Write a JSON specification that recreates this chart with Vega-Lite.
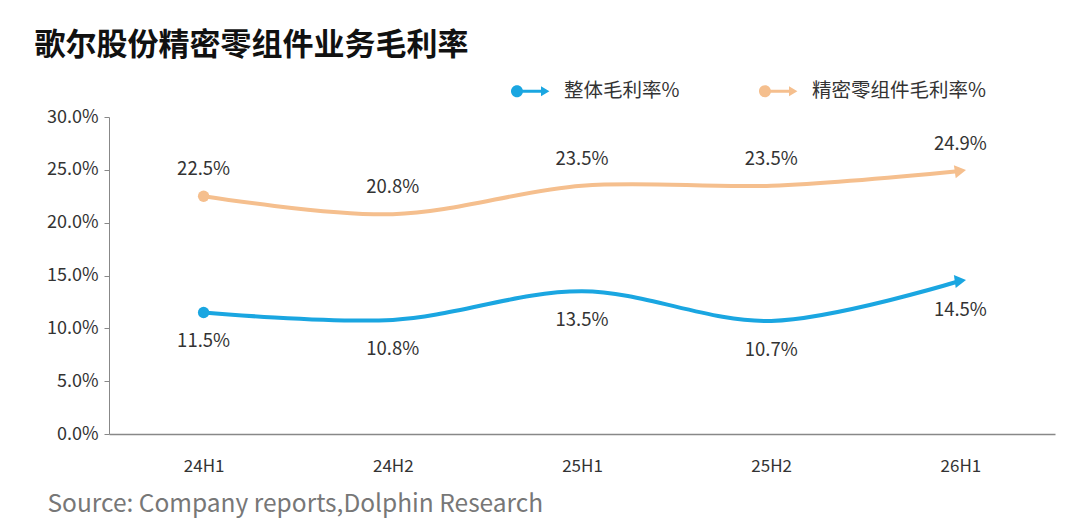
{
  "$schema": "https://vega.github.io/schema/vega-lite/v6.json",
  "autosize": {"type": "fit", "contains": "padding"},
  "width": 1080,
  "height": 530,
  "padding": {"top": 30, "left": 34, "right": 25, "bottom": 14},
  "background": "#ffffff",
  "title": {
    "text": "歌尔股份精密零组件业务毛利率",
    "anchor": "start",
    "frame": "bounds",
    "fontSize": 31,
    "fontWeight": "bold",
    "color": "#111111",
    "offset": 46,
    "dx": -12
  },
  "data": {
    "values": [
      {"period": "24H1", "series": "整体毛利率%", "value": 0.115},
      {"period": "24H2", "series": "整体毛利率%", "value": 0.108},
      {"period": "25H1", "series": "整体毛利率%", "value": 0.135},
      {"period": "25H2", "series": "整体毛利率%", "value": 0.107},
      {"period": "26H1", "series": "整体毛利率%", "value": 0.145},
      {"period": "24H1", "series": "精密零组件毛利率%", "value": 0.225},
      {"period": "24H2", "series": "精密零组件毛利率%", "value": 0.208},
      {"period": "25H1", "series": "精密零组件毛利率%", "value": 0.235},
      {"period": "25H2", "series": "精密零组件毛利率%", "value": 0.235},
      {"period": "26H1", "series": "精密零组件毛利率%", "value": 0.249}
    ]
  },
  "encoding": {
    "x": {
      "field": "period",
      "type": "ordinal",
      "scale": {"type": "point", "padding": 0.5},
      "axis": {
        "title": "Source: Company reports,Dolphin Research",
        "titleAnchor": "start",
        "titleAlign": "left",
        "titleBaseline": "alphabetic",
        "titleX": -62,
        "titleY": 77,
        "titleFontSize": 24.5,
        "titleFontWeight": "normal",
        "titleColor": "#777777",
        "labelAngle": 0,
        "labelFontSize": 17,
        "labelColor": "#333333",
        "labelPadding": 24,
        "ticks": false,
        "domainColor": "#888888",
        "domainWidth": 1.5
      }
    },
    "y": {
      "field": "value",
      "type": "quantitative",
      "scale": {"domain": [0, 0.3], "nice": false},
      "axis": {
        "title": null,
        "format": ".1%",
        "values": [0, 0.05, 0.1, 0.15, 0.2, 0.25, 0.3],
        "labelOverlap": false,
        "labelFontSize": 18,
        "labelColor": "#333333",
        "labelPadding": 6,
        "grid": false,
        "tickSize": 5,
        "tickColor": "#888888",
        "domainColor": "#888888"
      }
    },
    "color": {
      "field": "series",
      "type": "nominal",
      "scale": {
        "domain": ["整体毛利率%", "精密零组件毛利率%"],
        "range": ["#1aa6e1", "#f5bf8e"]
      },
      "legend": {
        "title": null,
        "orient": "none",
        "direction": "horizontal",
        "legendX": 401,
        "legendY": -46,
        "symbolType": "M -0.95 0 A 0.3 0.3 0 1 1 -0.35 0 A 0.3 0.3 0 1 1 -0.95 0 Z M -0.4 -0.07 L 0.55 -0.07 L 0.55 -0.25 L 0.97 0 L 0.55 0.25 L 0.55 0.07 L -0.4 0.07 Z",
        "symbolSize": 1600,
        "symbolStrokeWidth": 0,
        "labelFontSize": 19.5,
        "labelColor": "#333333",
        "labelOffset": 14,
        "labelLimit": 300,
        "columnPadding": 78,
        "encode": {
          "symbols": {"update": {"fill": {"scale": "color", "field": "value"}, "strokeWidth": {"value": 0}}}
        }
      }
    }
  },
  "layer": [
    {
      "mark": {"type": "line", "interpolate": "cardinal", "strokeWidth": 4}
    },
    {
      "transform": [{"filter": "datum.period == '24H1'"}],
      "mark": {"type": "point", "filled": true, "opacity": 1, "size": 130, "shape": "circle"}
    },
    {
      "transform": [{"filter": "datum.period == '26H1'"}],
      "mark": {"type": "point", "filled": true, "opacity": 1, "size": 170, "shape": "triangle-right", "angle": -8}
    },
    {
      "transform": [{"filter": "datum.series == '精密零组件毛利率%'"}],
      "mark": {"type": "text", "dy": -27, "fontSize": 18.5, "color": "#333333"},
      "encoding": {
        "text": {"field": "value", "type": "quantitative", "format": ".1%"},
        "color": {"value": "#333333"}
      }
    },
    {
      "transform": [{"filter": "datum.series == '整体毛利率%'"}],
      "mark": {"type": "text", "dy": 29, "fontSize": 18.5, "color": "#333333"},
      "encoding": {
        "text": {"field": "value", "type": "quantitative", "format": ".1%"},
        "color": {"value": "#333333"}
      }
    }
  ],
  "config": {
    "font": "Noto Sans CJK SC",
    "view": {"stroke": null}
  }
}
